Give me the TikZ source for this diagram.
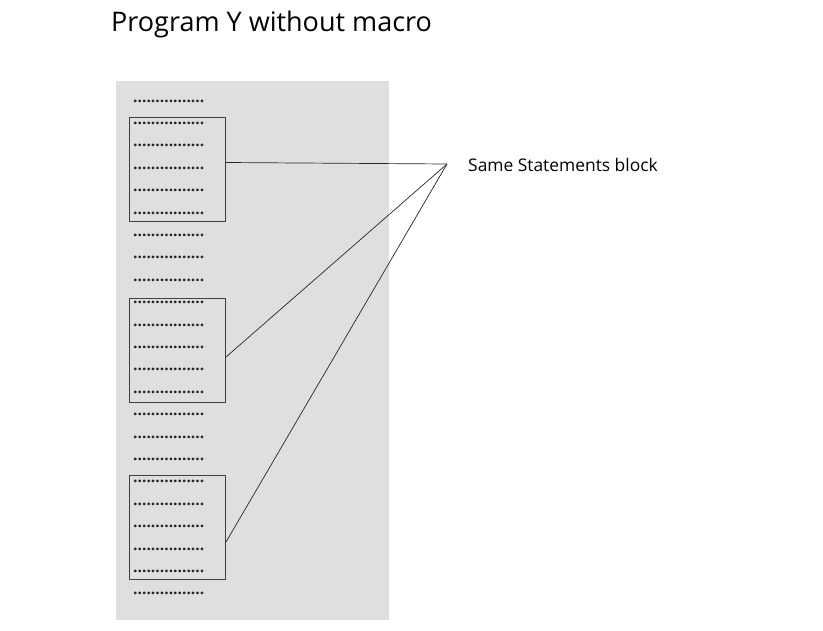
\documentclass[tikz,border=0pt]{standalone}
\usepackage{fontspec}
\setmainfont{Open Sans}
\begin{document}
\begin{tikzpicture}[x=1pt,y=-1pt,
  dotrow/.style={anchor=west,inner sep=0pt,font=\fontsize{15.6}{15.6}\selectfont\bfseries,text=black!85},
  blockbox/.style={draw=black!75,line width=1pt,anchor=north west,inner sep=0pt,minimum width=96pt,minimum height=104pt},
  link/.style={draw=black!85,line width=0.7pt},
  title/.style={anchor=base west,inner sep=0pt,font=\fontsize{27}{27}\selectfont},
  label/.style={anchor=base west,inner sep=0pt,font=\fontsize{17.4}{17.4}\selectfont}]
\useasboundingbox (0,0) rectangle (823,631);
\fill[fill={rgb,255:red,224;green,222;blue,223}] (116,81) rectangle (389,620);
\node[title] (t) at (111,32) {Program Y without macro};
\node[label] (lbl) at (468,172) {Same Statements block};
\coordinate (hub) at (447,164);
\foreach \i in {0,...,22}{
  \node[dotrow] (r\i) at (133,{101+\i*22.4}) {................};
}
\node[blockbox] (b1) at (129,117) {};
\node[blockbox] (b2) at (129,298) {};
\node[blockbox] (b3) at (129,475) {};
\draw[link] ([yshift=7pt]b1.east) -- (hub);
\draw[link] ([yshift=-6.5pt]b2.east) -- (hub);
\draw[link] ([yshift=-14.5pt]b3.east) -- (hub);
\end{tikzpicture}
\end{document}
